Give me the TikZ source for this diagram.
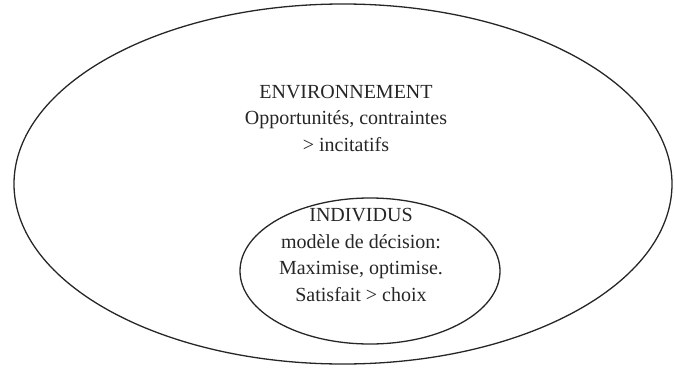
\documentclass[tikz,border=0pt]{standalone}
\usepackage{fontspec}
\setmainfont{Liberation Serif}
\usetikzlibrary{shapes.geometric}
\begin{document}
\begin{tikzpicture}[x=1pt,y=-1pt,
  ring/.style={draw=black!85, line width=1.3pt},
  lbl/.style={align=center, font=\fontsize{20}{26.5}\selectfont, text=black!85, inner sep=0pt}]
\useasboundingbox (0,0) rectangle (675,367);
\draw[ring] (343,184) ellipse [x radius=329, y radius=180];
\draw[ring] (370,271) ellipse [x radius=130, y radius=73];
\node[lbl] (env) at (346,118) {ENVIRONNEMENT\\Opportunités, contraintes\\> incitatifs};
\node[lbl] (ind) at (361,255) {INDIVIDUS\\modèle de décision:\\Maximise, optimise.\\Satisfait > choix};
\end{tikzpicture}
\end{document}
